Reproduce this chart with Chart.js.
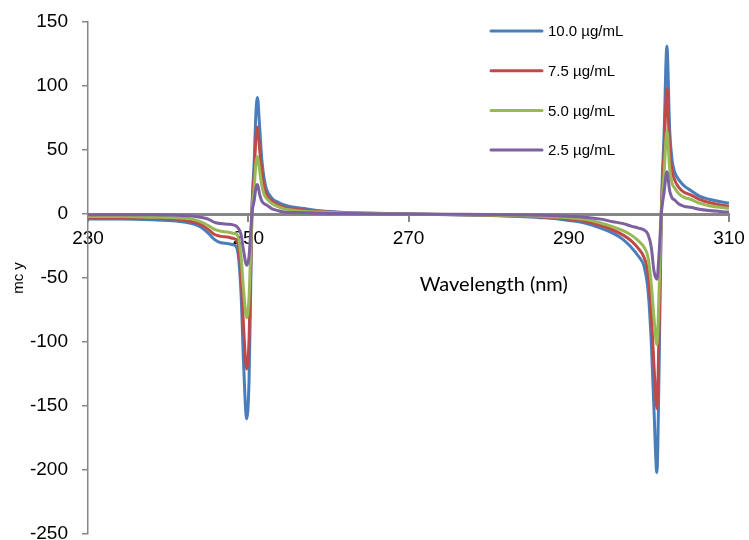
<!DOCTYPE html>
<html>
<head>
<meta charset="utf-8">
<script src="https://cdn.jsdelivr.net/npm/chart.js@4/dist/chart.umd.min.js"></script>
<style>
  html, body { margin: 0; padding: 0; background: #fff; overflow: hidden; }
  #wrap { width: 749px; height: 540px; }
</style>
</head>
<body>
<div id="wrap"><canvas id="cd-chart"></canvas></div>
<script>
// wavelength (nm) shared by all four spectra
const wavelengths = [
  230, 234, 238, 241, 243, 244, 245, 245.8, 246.6, 247.4, 248.1,
  248.6, 249.1, 249.4, 249.8, 250.1, 250.3, 250.45, 250.75, 250.95, 251.15, 251.4, 251.7,
  252.0, 252.3, 253.0, 253.8, 254.5, 255.5, 257.3, 259, 262, 266, 270,
  275, 280, 284, 287, 290, 292, 294, 295.5, 296.8, 297.8, 298.7, 299.4,
  299.9, 300.3, 300.65, 301.0, 301.3, 301.55, 301.9, 302.25, 302.6, 302.9, 303.2, 303.7,
  304.4, 305.2, 306.3, 307.5, 308.8, 310
];

// mdeg values
const conc10 = [
  -4, -4, -4.5, -5.5, -7.5, -10, -15, -20, -22.5, -23, -24,
  -27, -62, -114, -160, -130, -60, 0, 42, 78, 91, 70, 42,
  27, 19, 12, 9, 7, 5.5, 4, 2.5, 1.2, 0.5, 0,
  -0.5, -1.2, -2, -3, -5, -7, -11, -15, -20, -26, -33, -41,
  -60, -100, -155, -202, -110, 0, 63, 131, 65, 42, 33, 27,
  22, 18.5, 14, 11.5, 9.7, 8.5
];
const conc75 = [
  -3, -3, -3.5, -4, -6, -8, -12, -16, -17.5, -18, -19,
  -21, -47, -86, -121, -98, -45, 0, 32, 59, 68, 52, 32,
  21, 15, 10, 7, 5.2, 4, 3, 2, 1, 0.4, 0,
  -0.4, -1, -1.7, -2.5, -4, -5.5, -9, -12.5, -16.5, -21, -27, -34,
  -47, -78, -120, -152, -82, 0, 48, 98, 50, 33, 27, 21,
  17, 15, 11.5, 9, 7.3, 6
];
const conc50 = [
  -2, -2, -2.5, -3, -4, -6, -9, -12, -13.5, -14, -15,
  -16, -33, -58, -81, -65, -30, 0, 21, 39, 45, 35, 22,
  15, 12, 8, 5.5, 4, 3, 2, 1.5, 0.8, 0.3, 0,
  -0.3, -0.8, -1.3, -2, -3, -4.2, -7, -10, -13, -16.5, -21, -26,
  -34, -55, -82, -102, -55, 0, 32, 65, 35, 24, 20.5, 16,
  13, 11.5, 8.5, 6.5, 5.3, 4.5
];
const conc25 = [
  -0.5, -0.5, -0.5, -1, -1.5, -2.5, -4, -6.5, -7.5, -8, -8.5,
  -10, -16, -28, -40, -33, -15, 0, 11, 20, 23, 16, 10,
  8, 7, 4, 2.5, 1.5, 1.2, 1, 0.6, 0.3, 0.1, 0,
  -0.2, -0.4, -0.7, -1, -1.7, -2.5, -4, -6, -7.5, -9.5, -11, -12.5,
  -16, -26, -45, -51, -28, 0, 17, 33, 18, 12.5, 11, 8,
  6, 5.2, 3.7, 2.7, 2, 1.5
];

const seriesLabels = ["10.0 µg/mL", "7.5 µg/mL", "5.0 µg/mL", "2.5 µg/mL"];
const seriesValues = [conc10, conc75, conc50, conc25];
const seriesColors = ["#4A7EBB", "#BE4B48", "#98B954", "#7D60A0"];
const xTitle = "Wavelength (nm)";

const axisGrey = "#868686";

// legend drawn by hand at the top right, inside the plot,
// plus the x title, which sits right of centre under the zero line
const overlayText = {
  id: "overlayText",
  afterDatasetsDraw(chart) {
    const ctx = chart.ctx;
    const area = chart.chartArea;
    ctx.save();
    ctx.font = "15px 'Liberation Sans', Arial, sans-serif";
    ctx.textBaseline = "middle";
    ctx.fillStyle = "#000";
    chart.data.datasets.forEach((ds, i) => {
      const y = 31 + i * 39.7;
      ctx.strokeStyle = ds.borderColor;
      ctx.lineWidth = 3;
      ctx.lineCap = "round";
      ctx.beginPath();
      ctx.moveTo(491, y);
      ctx.lineTo(542, y);
      ctx.stroke();
      ctx.fillText(ds.label, 548, y + 1);
    });

    ctx.font = "20px Lato, 'Open Sans', sans-serif";
    ctx.textAlign = "center";
    const zeroY = chart.scales.y.getPixelForValue(0);
    ctx.fillText(xTitle, area.left + (area.right - area.left) * 0.633, zeroY + 71);
    ctx.restore();
  },
};

// keep label overflow from shrinking the plot area
function noEdgePadding(scale) {
  scale.paddingTop = 0;
  scale.paddingBottom = 0;
  scale.paddingLeft = 0;
  scale.paddingRight = 0;
}

new Chart(document.getElementById("cd-chart"), {
  type: "line",
  data: {
    datasets: seriesLabels.map((label, i) => ({
      label: label,
      data: wavelengths.map((w, j) => ({ x: w, y: seriesValues[i][j] })),
      borderColor: seriesColors[i],
      backgroundColor: seriesColors[i],
      borderWidth: 3,
      pointRadius: 0,
      cubicInterpolationMode: "monotone",
      order: 4 - i, // purple ends up on top
    })),
  },
  options: {
    responsive: true,
    maintainAspectRatio: false,
    animation: false,
    layout: { padding: { top: 22, right: 20, bottom: 6, left: 0 } },
    plugins: {
      legend: { display: false },
      tooltip: { enabled: false },
    },
    scales: {
      x: {
        type: "linear",
        position: { y: 0 },
        min: 230,
        max: 310,
        ticks: {
          stepSize: 20,
          padding: 7,
          color: "#000",
          font: { family: "'Liberation Sans', Arial", size: 19 },
        },
        grid: {
          drawOnChartArea: false,
          drawTicks: true,
          tickLength: 6,
          color: axisGrey,
          lineWidth: 2,
        },
        border: { display: true, color: axisGrey, width: 3 },
        title: { display: false },
        afterFit: noEdgePadding,
      },
      y: {
        min: -250,
        max: 150,
        ticks: {
          stepSize: 50,
          padding: 14,
          color: "#000",
          font: { family: "'Liberation Sans', Arial", size: 19 },
        },
        grid: {
          drawOnChartArea: false,
          drawTicks: true,
          tickLength: 6,
          color: axisGrey,
          lineWidth: 1.5,
        },
        border: { display: true, color: axisGrey, width: 1.5 },
        title: {
          display: true,
          text: "mc y",
          color: "#000",
          font: { family: "'Liberation Sans', Arial", size: 15 },
          padding: { top: 10, bottom: 0 },
        },
        afterFit(scale) {
          noEdgePadding(scale);
          scale.width = 88;
        },
      },
    },
  },
  plugins: [overlayText],
});
</script>
</body>
</html>
